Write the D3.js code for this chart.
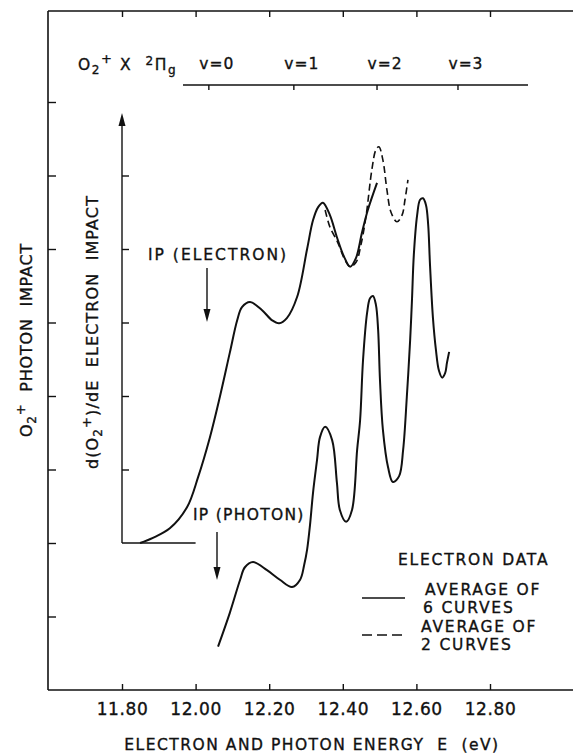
<!DOCTYPE html>
<html>
<head>
<meta charset="utf-8">
<script src="https://cdn.jsdelivr.net/npm/d3@7"></script>
<style>
  body { margin: 0; background: #fff; }
  text { font-family: "DejaVu Sans", sans-serif; fill: #111; stroke: #111; stroke-width: 0.35px; white-space: pre; }
</style>
</head>
<body>
<div id="chart"></div>
<script>
// Data
const energyTicks = [11.8, 12.0, 12.2, 12.4, 12.6, 12.8];
const energyLabels = ["11.80", "12.00", "12.20", "12.40", "12.60", "12.80"];
const countTicks = [1, 2, 3, 4, 5, 6, 7, 8];
const electronAxisTicks = [3, 4, 5, 6, 7];

// O2+ X 2Pi_g vibrational levels (eV)
const vLevels = [12.036, 12.267, 12.493, 12.713];
const vLabels = ["v=0", "v=1", "v=2", "v=3"];

// electron impact, average of 6 curves (solid)
const elec6E = [11.849, 11.884, 11.930, 11.977, 12.007, 12.039, 12.066, 12.093, 12.113, 12.126,
  12.148, 12.180, 12.208, 12.227, 12.248, 12.276, 12.303, 12.319, 12.333, 12.346,
  12.365, 12.384, 12.403, 12.420, 12.436, 12.452, 12.468, 12.493];
const elec6I = [2.00, 2.07, 2.20, 2.49, 2.90, 3.44, 3.99, 4.59, 5.03, 5.21,
  5.28, 5.17, 5.03, 4.99, 5.06, 5.35, 6.00, 6.39, 6.57, 6.63,
  6.46, 6.16, 5.90, 5.76, 5.88, 6.22, 6.53, 6.90];

// electron impact, average of 2 curves (dashed)
const elec2E = [12.352, 12.365, 12.387, 12.406, 12.420, 12.436, 12.449, 12.463, 12.479, 12.490,
  12.498, 12.509, 12.520, 12.531, 12.547, 12.561, 12.569, 12.577];
const elec2I = [6.53, 6.30, 6.08, 5.85, 5.76, 5.82, 6.05, 6.44, 7.08, 7.35,
  7.39, 7.21, 6.80, 6.50, 6.37, 6.46, 6.67, 6.94];

// photon impact (solid)
const photonE = [12.061, 12.093, 12.121, 12.134, 12.156, 12.194, 12.229, 12.262, 12.284, 12.295,
  12.303, 12.311, 12.319, 12.330, 12.338, 12.352, 12.371, 12.384, 12.392, 12.409,
  12.425, 12.439, 12.447, 12.455, 12.466, 12.474, 12.482, 12.490, 12.496, 12.501,
  12.509, 12.523, 12.536, 12.553, 12.564, 12.574, 12.583, 12.588, 12.593, 12.602,
  12.610, 12.618, 12.626, 12.632, 12.637, 12.645, 12.653, 12.661, 12.670, 12.678,
  12.683, 12.689];
const photonI = [0.59, 1.05, 1.50, 1.67, 1.74, 1.63, 1.50, 1.40, 1.50, 1.70,
  1.91, 2.25, 2.68, 3.13, 3.44, 3.58, 3.40, 2.82, 2.45, 2.29,
  2.45, 3.27, 3.67, 4.49, 5.13, 5.33, 5.36, 5.24, 4.90, 4.22,
  3.54, 3.03, 2.83, 2.91, 3.27, 3.99, 4.76, 5.31, 5.92, 6.46,
  6.67, 6.69, 6.60, 6.33, 5.78, 5.06, 4.63, 4.35, 4.25, 4.31,
  4.45, 4.60];

const toPoints = (xs, ys) => xs.map((e, i) => ({ e: e, v: ys[i] }));

// Dimensions
const width = 573;
const height = 754;
const frame = { left: 48, right: 573, top: 11, bottom: 690 };

const svg = d3
  .select("#chart")
  .append("svg")
  .attr("width", width)
  .attr("height", height)
  .style("background", "#fff");

// Scales
const xScale = d3.scaleLinear().domain([11.8, 12.8]).range([122, 490]);
const yScale = d3.scaleLinear().domain([0, 9]).range([frame.bottom, 28.5]);

const ink = "#111";

// frame lines
svg.append("line")
  .attr("x1", frame.left).attr("x2", frame.left)
  .attr("y1", frame.top).attr("y2", frame.bottom)
  .attr("stroke", ink).attr("stroke-width", 1.6);
svg.append("line")
  .attr("x1", frame.left).attr("x2", frame.right)
  .attr("y1", frame.bottom).attr("y2", frame.bottom)
  .attr("stroke", ink).attr("stroke-width", 1.4);
svg.append("line")
  .attr("x1", frame.left).attr("x2", frame.right)
  .attr("y1", frame.top).attr("y2", frame.top)
  .attr("stroke", ink).attr("stroke-width", 1.4);

// bottom axis, ticks pointing up
const xAxis = d3.axisBottom(xScale)
  .tickValues(energyTicks)
  .tickSizeInner(-6)
  .tickSizeOuter(0)
  .tickPadding(13)
  .tickFormat((d, i) => energyLabels[i]);

const gX = svg.append("g")
  .attr("transform", `translate(0, ${frame.bottom})`)
  .call(xAxis);
gX.select(".domain").remove();
gX.selectAll(".tick line").attr("stroke", ink).attr("stroke-width", 1.4);
gX.selectAll(".tick text")
  .style("font-family", "DejaVu Sans, sans-serif")
  .style("font-size", "17px")
  .style("letter-spacing", "0.6px")
  .attr("fill", ink);

// top axis, ticks pointing down
const xTop = d3.axisTop(xScale).tickValues(energyTicks).tickSizeInner(-6).tickSizeOuter(0).tickFormat("");
const gTop = svg.append("g").attr("transform", `translate(0, ${frame.top})`).call(xTop);
gTop.select(".domain").remove();
gTop.selectAll(".tick line").attr("stroke", ink).attr("stroke-width", 1.4);

// left axis, ticks pointing in
const yAxis = d3.axisLeft(yScale).tickValues(countTicks).tickSizeInner(-8).tickSizeOuter(0).tickFormat("");
const gY = svg.append("g").attr("transform", `translate(${frame.left}, 0)`).call(yAxis);
gY.select(".domain").remove();
gY.selectAll(".tick line").attr("stroke", ink).attr("stroke-width", 1.4);

// inner electron-impact axis
const ex = xScale(11.8);
const arrowTip = yScale(7.85);
svg.append("line")
  .attr("x1", ex).attr("x2", ex)
  .attr("y1", yScale(2)).attr("y2", arrowTip + 6)
  .attr("stroke", ink).attr("stroke-width", 1.4);
svg.append("line")
  .attr("x1", ex).attr("x2", xScale(12.0))
  .attr("y1", yScale(2)).attr("y2", yScale(2))
  .attr("stroke", ink).attr("stroke-width", 1.4);
svg.append("path")
  .attr("d", `M${ex},${arrowTip} L${ex - 3.5},${arrowTip + 13} L${ex + 3.5},${arrowTip + 13} Z`)
  .attr("fill", ink);
const yInner = d3.axisLeft(yScale).tickValues(electronAxisTicks).tickSizeInner(-7).tickSizeOuter(0).tickFormat("");
const gYi = svg.append("g").attr("transform", `translate(${ex}, 0)`).call(yInner);
gYi.select(".domain").remove();
gYi.selectAll(".tick line").attr("stroke", ink).attr("stroke-width", 1.4);

// vibrational level ladder
const vY = 85;
svg.append("line")
  .attr("x1", 183).attr("x2", 528)
  .attr("y1", vY).attr("y2", vY)
  .attr("stroke", ink).attr("stroke-width", 1.4);
svg.selectAll(".vtick")
  .data(vLevels)
  .join("line")
  .attr("class", "vtick")
  .attr("x1", (d) => xScale(d)).attr("x2", (d) => xScale(d))
  .attr("y1", vY).attr("y2", vY + 5)
  .attr("stroke", ink).attr("stroke-width", 1.4);
svg.selectAll(".vlabel")
  .data(vLevels)
  .join("text")
  .attr("class", "vlabel")
  .attr("x", (d) => xScale(d) + 8)
  .attr("y", 69)
  .attr("text-anchor", "middle")
  .style("font-size", "15.5px")
  .style("letter-spacing", "1px")
  .text((d, i) => vLabels[i]);

const state = svg.append("text").attr("x", 78).attr("y", 70).style("font-size", "15.5px").style("letter-spacing", "1.6px");
state.append("tspan").text("O");
state.append("tspan").attr("dy", 4).style("font-size", "12px").text("2");
state.append("tspan").attr("dy", -11).style("font-size", "13px").text("+");
state.append("tspan").attr("dy", 7).text(" X  ");
state.append("tspan").attr("dy", -5).style("font-size", "12px").text("2");
state.append("tspan").attr("dy", 5).text("Π");
state.append("tspan").attr("dy", 4).style("font-size", "12px").text("g");

// curves
const line = d3.line()
  .x((d) => xScale(d.e))
  .y((d) => yScale(d.v))
  .curve(d3.curveCatmullRom.alpha(0.5));

svg.append("path")
  .datum(toPoints(elec2E, elec2I))
  .attr("d", line)
  .attr("fill", "none")
  .attr("stroke", ink)
  .attr("stroke-width", 1.6)
  .attr("stroke-dasharray", "7,4");

svg.append("path")
  .datum(toPoints(elec6E, elec6I))
  .attr("d", line)
  .attr("fill", "none")
  .attr("stroke", ink)
  .attr("stroke-width", 2);

svg.append("path")
  .datum(toPoints(photonE, photonI))
  .attr("d", line)
  .attr("fill", "none")
  .attr("stroke", ink)
  .attr("stroke-width", 2);

// IP markers
function downArrow(x, y1, y2) {
  svg.append("line")
    .attr("x1", x).attr("x2", x).attr("y1", y1).attr("y2", y2 - 8)
    .attr("stroke", ink).attr("stroke-width", 1.4);
  svg.append("path")
    .attr("d", `M${x},${y2} L${x - 3.5},${y2 - 13} L${x + 3.5},${y2 - 13} Z`)
    .attr("fill", ink);
}
const labelStyle = (sel, ls) => sel.style("font-size", "15.5px").style("letter-spacing", ls);
labelStyle(svg.append("text").attr("x", 148).attr("y", 260), "2px").text("IP (ELECTRON)");
downArrow(207, 268, 322);
labelStyle(svg.append("text").attr("x", 193).attr("y", 520), "1.3px").text("IP (PHOTON)");
downArrow(217, 532, 580);

// legend
labelStyle(svg.append("text").attr("x", 398).attr("y", 565), "1.8px").text("ELECTRON DATA");
svg.append("line").attr("x1", 362).attr("x2", 405).attr("y1", 598).attr("y2", 598)
  .attr("stroke", ink).attr("stroke-width", 1.6);
labelStyle(svg.append("text").attr("x", 425).attr("y", 595), "1.8px").text("AVERAGE OF");
labelStyle(svg.append("text").attr("x", 423).attr("y", 613), "1.8px").text("6 CURVES");
svg.append("line").attr("x1", 362).attr("x2", 403).attr("y1", 635).attr("y2", 635)
  .attr("stroke", ink).attr("stroke-width", 1.6).attr("stroke-dasharray", "10,5");
labelStyle(svg.append("text").attr("x", 421).attr("y", 632), "1.8px").text("AVERAGE OF");
labelStyle(svg.append("text").attr("x", 421).attr("y", 650), "1.8px").text("2 CURVES");

// axis titles
svg.append("text")
  .attr("x", 312).attr("y", 750)
  .attr("text-anchor", "middle")
  .style("font-size", "15.5px")
  .style("letter-spacing", "1.5px")
  .text("ELECTRON AND PHOTON ENERGY  E  (eV)");

const photonTitle = svg.append("text")
  .attr("transform", "translate(32, 340) rotate(-90)")
  .attr("text-anchor", "middle")
  .style("font-size", "16px")
  .style("letter-spacing", "0.8px");
photonTitle.append("tspan").text("O");
photonTitle.append("tspan").attr("dy", 4).style("font-size", "12px").text("2");
photonTitle.append("tspan").attr("dy", -11).style("font-size", "13px").text("+");
photonTitle.append("tspan").attr("dy", 7).text("  PHOTON  IMPACT");

const elecTitle = svg.append("text")
  .attr("transform", "translate(98, 332) rotate(-90)")
  .attr("text-anchor", "middle")
  .style("font-size", "16px")
  .style("letter-spacing", "1.1px");
elecTitle.append("tspan").text("d(O");
elecTitle.append("tspan").attr("dy", 4).style("font-size", "12px").text("2");
elecTitle.append("tspan").attr("dy", -11).style("font-size", "13px").text("+");
elecTitle.append("tspan").attr("dy", 7).text(")/dE  ELECTRON  IMPACT");
</script>
</body>
</html>
